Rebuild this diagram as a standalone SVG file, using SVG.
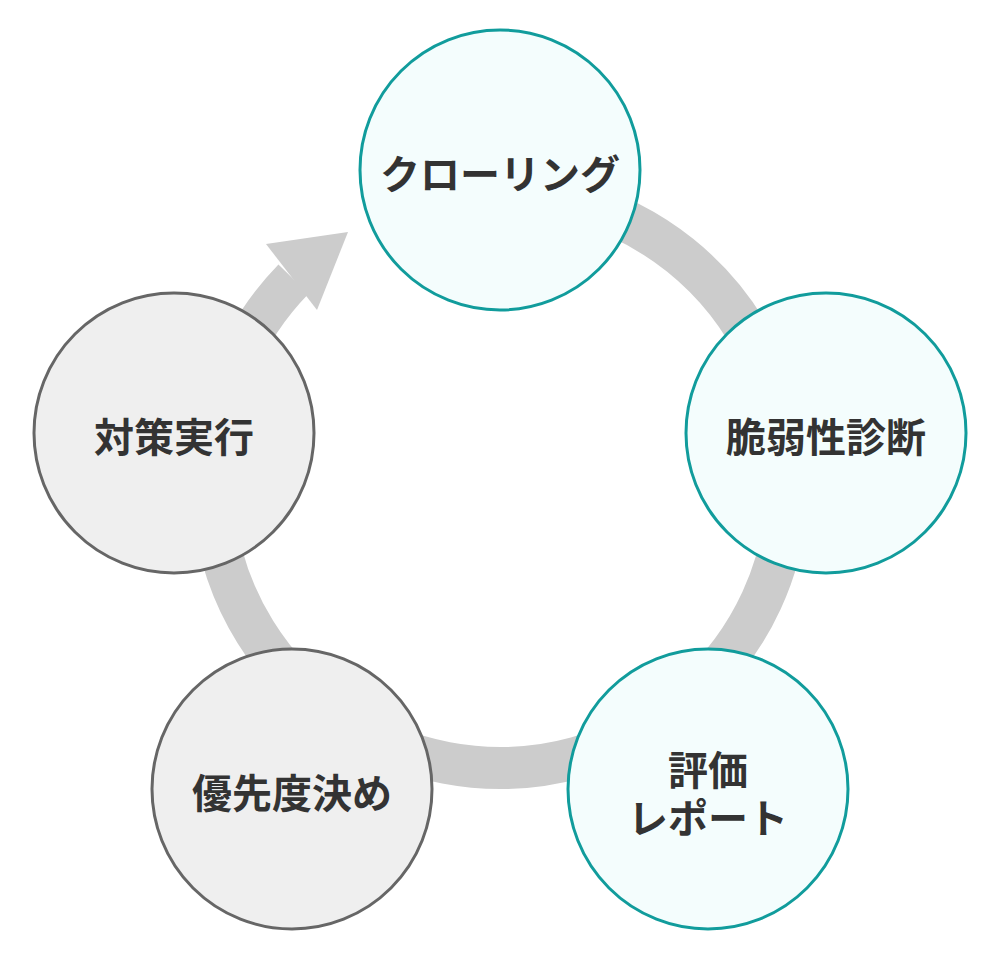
<svg xmlns="http://www.w3.org/2000/svg" width="1000" height="960" viewBox="0 0 1000 960">
  <style>
    .ring { fill: none; stroke: #cccccc; stroke-width: 42; }
    .head { fill: #cccccc; stroke: none; }
    .teal { fill: #f4fdfd; stroke: #119c9c; stroke-width: 3; }
    .gray { fill: #efefef; stroke: #666666; stroke-width: 3; }
    .label { font-family: "Noto Sans CJK JP", "Noto Sans", sans-serif; font-weight: 700; font-size: 40px; fill: #333333; text-anchor: middle; }
  </style>
  <rect width="1000" height="960" fill="#ffffff"/>
  <g id="connectors">
    <path class="ring" d="M 574.5 201.8 A 288 288 0 1 1 293.5 279.2"/>
    <polygon class="head" points="266,244 348,232 317,310"/>
  </g>
  <g id="node-crawling">
    <circle class="teal" cx="500" cy="170" r="140"/>
    <text class="label" x="500" y="189">クローリング</text>
  </g>
  <g id="node-diagnosis">
    <circle class="teal" cx="826" cy="433" r="140"/>
    <text class="label" x="826" y="452">脆弱性診断</text>
  </g>
  <g id="node-report">
    <circle class="teal" cx="708" cy="789" r="140"/>
    <text class="label" x="708" y="785">評価</text>
    <text class="label" x="708" y="833">レポート</text>
  </g>
  <g id="node-priority">
    <circle class="gray" cx="292" cy="789" r="140"/>
    <text class="label" x="292" y="808">優先度決め</text>
  </g>
  <g id="node-action">
    <circle class="gray" cx="174" cy="433" r="140"/>
    <text class="label" x="174" y="452">対策実行</text>
  </g>
</svg>
